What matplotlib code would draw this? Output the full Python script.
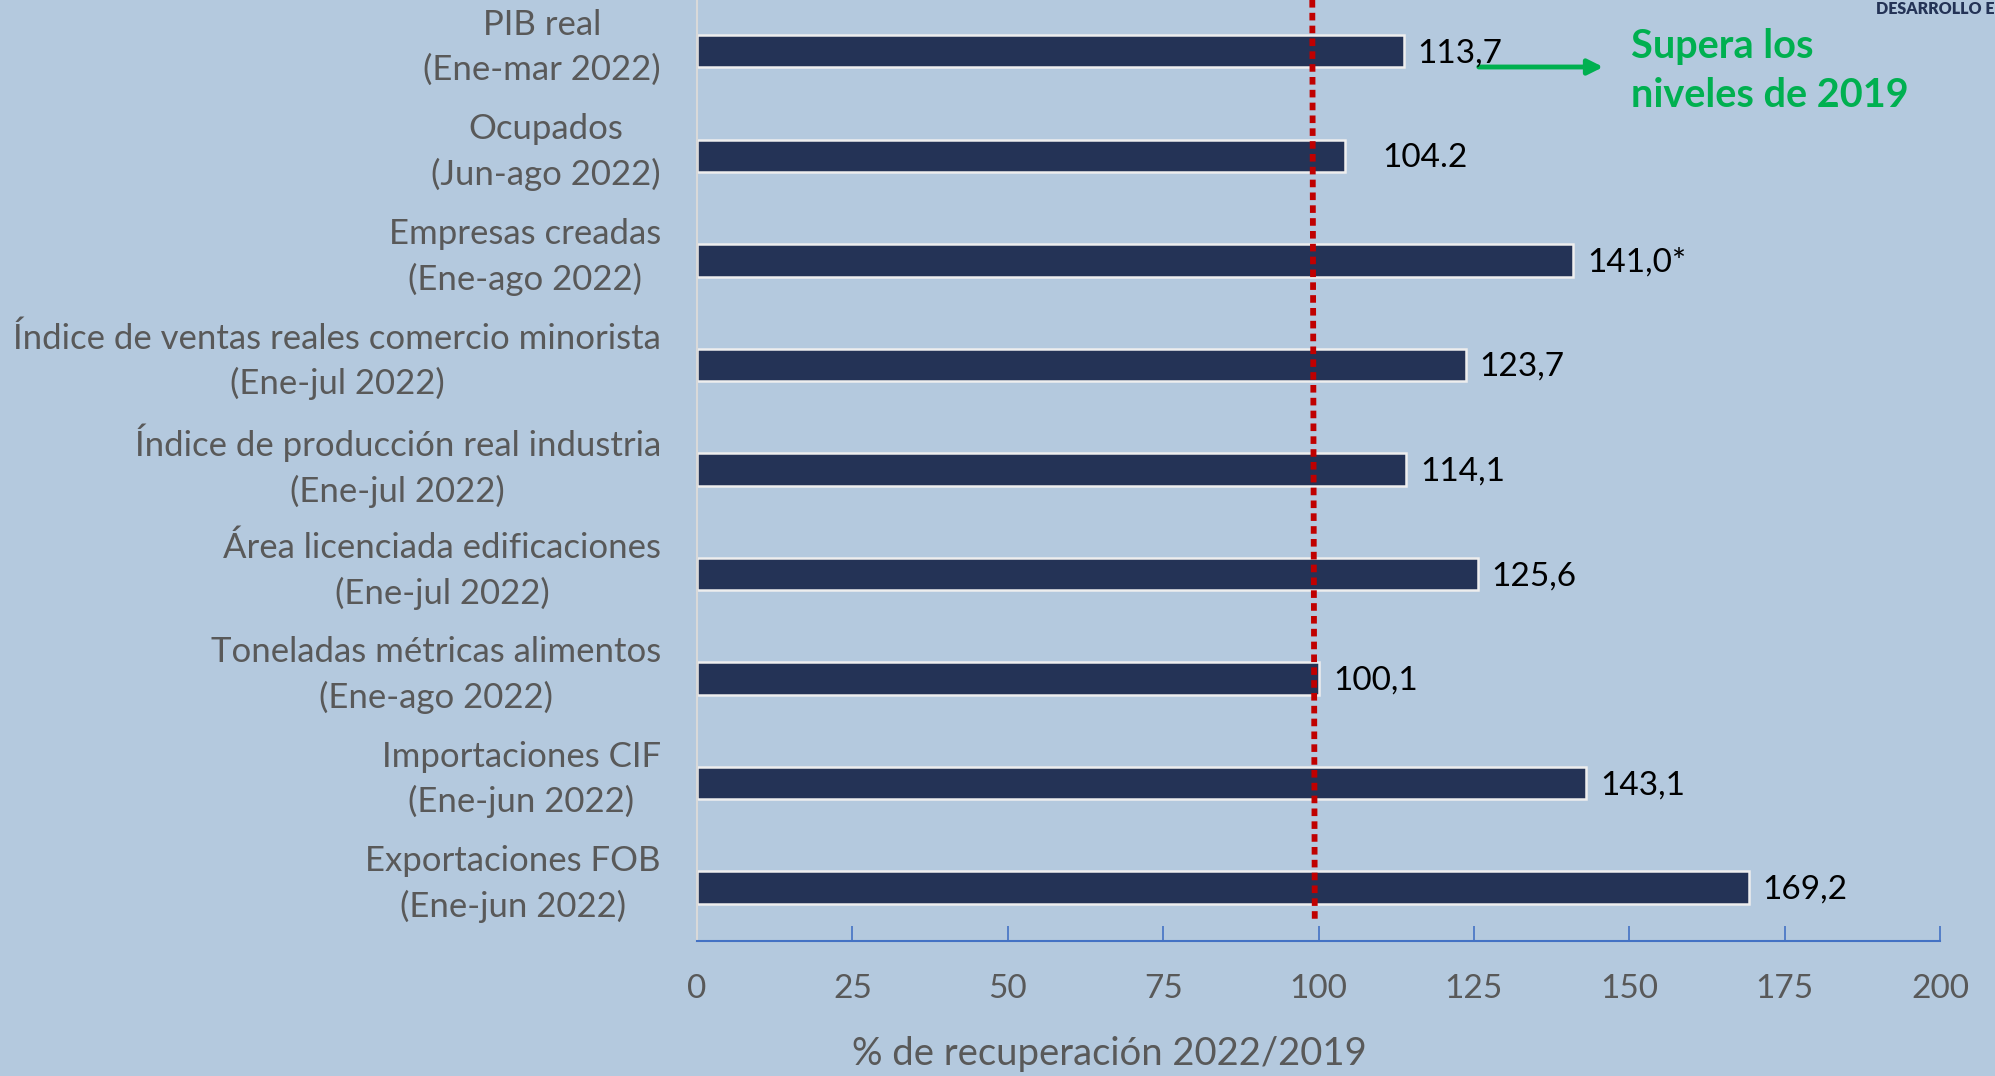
import matplotlib
matplotlib.use("Agg")
import matplotlib.pyplot as plt
from matplotlib.transforms import ScaledTranslation

categories = [
    "PIB real\n(Ene-mar 2022)",
    "Ocupados\n(Jun-ago 2022)",
    "Empresas creadas\n(Ene-ago 2022)",
    "Índice de ventas reales comercio minorista\n(Ene-jul 2022)",
    "Índice de producción real industria\n(Ene-jul 2022)",
    "Área licenciada edificaciones\n(Ene-jul 2022)",
    "Toneladas métricas alimentos\n(Ene-ago 2022)",
    "Importaciones CIF\n(Ene-jun 2022)",
    "Exportaciones FOB\n(Ene-jun 2022)",
]
values = [113.7, 104.2, 141.0, 123.7, 114.1, 125.6, 100.1, 143.1, 169.2]
value_labels = ["113,7", "104.2", "141,0*", "123,7", "114,1", "125,6", "100,1", "143,1", "169,2"]
xticks = [0, 25, 50, 75, 100, 125, 150, 175, 200]
reference_level = 99

BG = "#B4C9DE"
BAR = "#243356"
GRAY = "#595959"
GREEN = "#00B050"
FONT = ["Lato", "DejaVu Sans"]

plt.rcParams["font.family"] = FONT

fig = plt.figure(figsize=(19.95, 10.76), dpi=100, facecolor=BG)
ax = fig.add_axes([697 / 1995, 1 - 941 / 1076, (1940 - 697) / 1995, 941 / 1076])
ax.set_facecolor(BG)

ypos = list(range(len(categories)))
ax.barh(ypos, values, height=0.31, color=BAR, edgecolor="#EEEEEE", linewidth=1.8, zorder=2)

ax.set_ylim(len(categories) - 0.49, -0.49)
ax.set_xlim(0, 200)

# red dotted reference line
ax.plot([reference_level, reference_level + 0.4], [-0.49, len(categories) - 0.68],
        color="#C00000", linewidth=4.2, linestyle=(0, (1.3, 0.9)), zorder=3,
        solid_capstyle="butt", dash_capstyle="butt")

for i, (v, lab) in enumerate(zip(values, value_labels)):
    off = 27 if lab == "104.2" else 10
    ax.annotate(lab, xy=(v, i), xytext=(off, -1.5), textcoords="offset points",
                ha="left", va="center", fontsize=24, color="black", zorder=4)

ax.set_yticks(ypos)
ax.set_yticklabels(categories, fontsize=25, color=GRAY, linespacing=1.47)
ax.tick_params(axis="y", length=0, pad=26)

ax.set_xticks(xticks)
ax.set_xticklabels([str(x) for x in xticks], fontsize=24, color=GRAY)
ax.tick_params(axis="x", direction="in", length=11, width=1.2, color="#4472C4", pad=24)

for s in ["top", "right"]:
    ax.spines[s].set_visible(False)
ax.spines["bottom"].set_color("#4472C4")
ax.spines["bottom"].set_linewidth(1.5)
ax.spines["left"].set_color("#D9D9D9")
ax.spines["left"].set_linewidth(1.5)

fig.text(1109 / 1995, 1 - 1054 / 1076, "% de recuperación 2022/2019", ha="center", va="center",
         fontsize=27.5, color=GRAY)

# annotation
fig.text(1631 / 1995, 1 - 71 / 1076, "Supera los\nniveles de 2019", ha="left", va="center",
         fontsize=28.5, fontweight="bold", color=GREEN, linespacing=1.41)
ax.annotate("", xy=(1606 / 1995, 1 - 67 / 1076), xytext=(1476 / 1995, 1 - 67 / 1076),
            xycoords="figure fraction", textcoords="figure fraction",
            arrowprops=dict(arrowstyle="-|>,head_length=0.9,head_width=0.45", color=GREEN, lw=3.5))

fig.text(1994 / 1995, 1 - 1 / 1076, "DESARROLLO E", ha="right", va="top",
         fontsize=11.5, fontweight="heavy", color="#243356")

# shift category labels slightly upward, as in the reference
fig.canvas.draw()
shift_up = ScaledTranslation(0, 13 / 100, fig.dpi_scale_trans)
for t in ax.get_yticklabels():
    t.set_multialignment("center")
    t.set_transform(t.get_transform() + shift_up)

fig.savefig("out.png", dpi=100, facecolor=BG)
